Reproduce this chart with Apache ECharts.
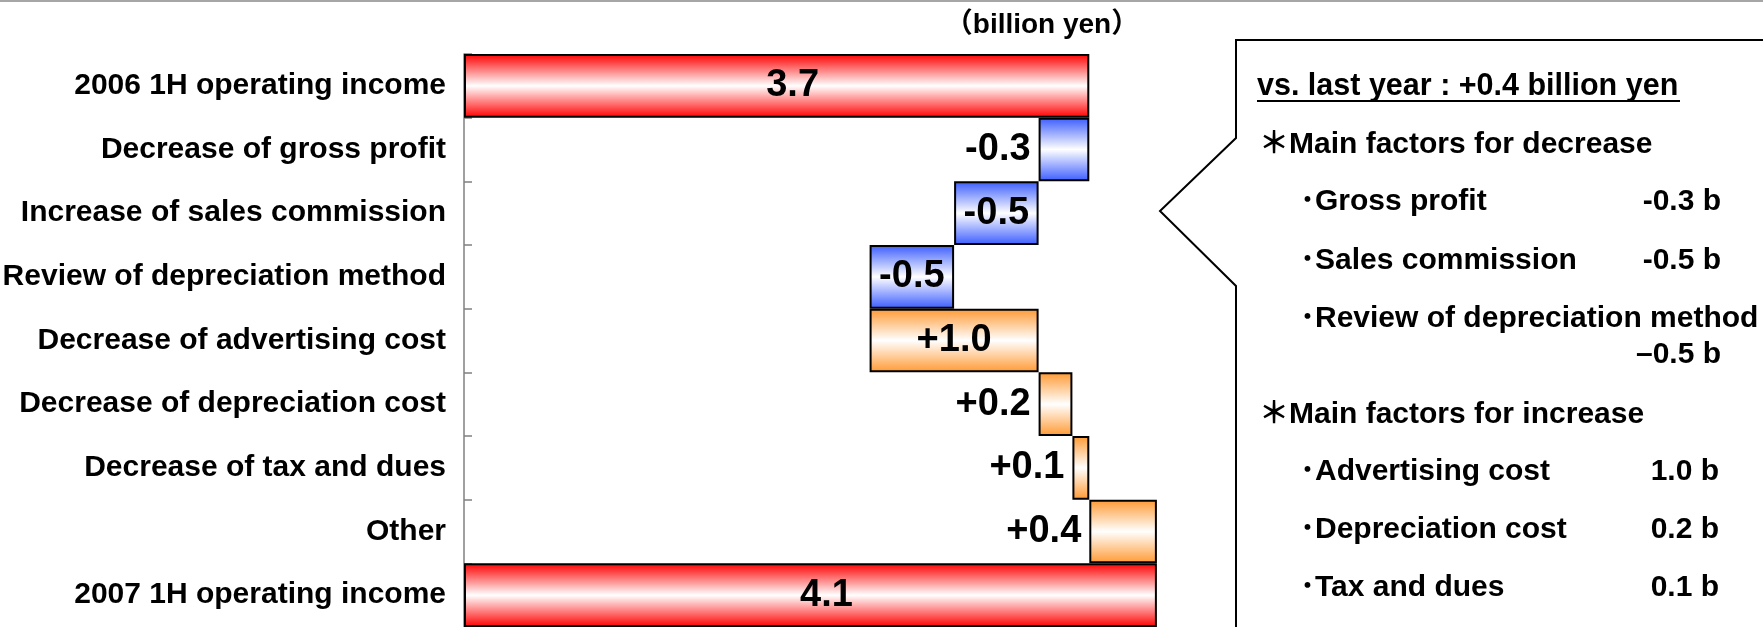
<!DOCTYPE html>
<html>
<head>
<meta charset="utf-8">
<title>Operating income bridge</title>
<script src="https://cdn.jsdelivr.net/npm/echarts@6/dist/echarts.min.js"></script>
<style>
  html, body { margin: 0; padding: 0; background: #fff; }
  #chart { width: 1763px; height: 627px; }
</style>
</head>
<body>
<div id="chart"></div>
<script>
// Rows of the bridge, top to bottom
const categories = [
  '2006 1H operating income',
  'Decrease of gross profit',
  'Increase of sales commission',
  'Review of depreciation method',
  'Decrease of advertising cost',
  'Decrease of depreciation cost',
  'Decrease of tax and dues',
  'Other',
  '2007 1H operating income'
];
// Amounts in billion yen: first and last rows are totals, the rest are changes
const amounts = [3.7, -0.3, -0.5, -0.5, 1.0, 0.2, 0.1, 0.4, 4.1];
const isTotal = [true, false, false, false, false, false, false, false, true];

const unitLabel = '（billion yen）';

// Text of the summary panel
const panelTitle = 'vs. last year : +0.4 billion yen';
const decreaseHeading = '＊Main factors for decrease';
const decreaseItems = ['Gross profit', 'Sales commission', 'Review of depreciation method'];
const decreaseValues = ['-0.3 b', '-0.5 b', '–0.5 b'];
const increaseHeading = '＊Main factors for increase';
const increaseItems = ['Advertising cost', 'Depreciation cost', 'Tax and dues'];
const increaseValues = ['1.0 b', '0.2 b', '0.1 b'];

// ---- layout / styling ----
const FONT = "'Liberation Sans', Arial, 'Noto Sans CJK JP', sans-serif";
const RED = '#ff0000', BLUE = '#3a5cff', ORANGE = '#ff9933';

function band(c) {
  return new echarts.graphic.LinearGradient(0, 0, 0, 1, [
    { offset: 0, color: c },
    { offset: 0.5, color: '#ffffff' },
    { offset: 1, color: c }
  ]);
}

// Running totals give each floating bar its offset
const bases = [];
const visible = [];
let running = 0;
amounts.forEach((v, i) => {
  if (isTotal[i]) {
    bases.push(0);
    visible.push({
      value: v,
      itemStyle: { color: band(RED) },
      label: { position: 'inside', offset: [16, 0], formatter: v.toFixed(1) }
    });
    running = v;
  } else {
    const next = running + v;
    bases.push(Math.min(running, next));
    const txt = (v > 0 ? '+' : '-') + Math.abs(v).toFixed(1);
    // large steps carry their label inside, small ones to the left
    const inside = Math.abs(v) >= 0.5;
    visible.push({
      value: Math.abs(v),
      itemStyle: { color: band(v < 0 ? BLUE : ORANGE) },
      label: { position: inside ? 'inside' : 'left', distance: 8, formatter: txt }
    });
    running = next;
  }
});

const chart = echarts.init(document.getElementById('chart'), null, { renderer: 'canvas' });

const PANEL_X = 1236, PANEL_TOP = 40;
const textEl = (text, x, y, align, extra) => ({
  type: 'text',
  x: x, y: y,
  style: Object.assign({
    text: text,
    fill: '#000',
    font: 'bold 30px ' + FONT,
    align: align || 'left',
    verticalAlign: 'middle'
  }, extra || {})
});

const graphics = [
  // thin rule along the top edge
  { type: 'rect', shape: { x: 0, y: 0, width: 1763, height: 2 }, style: { fill: '#a6a6a6' } },
  // callout box pointing at the bars
  {
    type: 'polyline',
    shape: { points: [[1770, PANEL_TOP], [PANEL_X, PANEL_TOP], [PANEL_X, 138], [1160, 211], [PANEL_X, 286], [PANEL_X, 640]] },
    style: { stroke: '#000', lineWidth: 2, fill: null }
  },
  textEl(unitLabel, 1042, 25, 'center', { font: 'bold 28px ' + FONT }),
  textEl(panelTitle, 1257, 87, 'left', { font: 'bold 30.5px ' + FONT }),
  { type: 'rect', shape: { x: 1257, y: 100, width: 423, height: 2 }, style: { fill: '#000' } },
  textEl(decreaseHeading, 1259, 145),
  textEl(increaseHeading, 1259, 415)
];

const decY = [202, 261, 319];
decreaseItems.forEach((t, i) => graphics.push(textEl('･' + t, 1300, decY[i])));
const decValY = [202, 261, 355];
decreaseValues.forEach((t, i) => graphics.push(textEl(t, 1721, decValY[i], 'right')));
const incY = [472, 530, 588];
increaseItems.forEach((t, i) => graphics.push(textEl('･' + t, 1300, incY[i])));
increaseValues.forEach((t, i) => graphics.push(textEl(t, 1719, incY[i], 'right')));

chart.setOption({
  animation: false,
  backgroundColor: '#ffffff',
  grid: { left: 464, top: 54, width: 169 * 7, bottom: 0, containLabel: false, outerBoundsMode: 'none' },
  xAxis: { type: 'value', min: 0, max: 7, show: false },
  yAxis: {
    type: 'category',
    inverse: true,
    data: categories,
    axisLine: { show: true, lineStyle: { color: '#808080', width: 1.5 } },
    axisTick: { show: true, inside: true, length: 8, lineStyle: { color: '#808080', width: 1.5 } },
    axisLabel: {
      color: '#000', fontWeight: 'bold', fontSize: 30, fontFamily: FONT, margin: 18
    },
    splitLine: { show: false }
  },
  series: [
    {
      name: 'offset', type: 'bar', stack: 'bridge', silent: true,
      barCategoryGap: '0%',
      itemStyle: { color: 'rgba(0,0,0,0)' },
      data: bases
    },
    {
      name: 'amount', type: 'bar', stack: 'bridge',
      barCategoryGap: '0%',
      itemStyle: { borderColor: '#000', borderWidth: 2 },
      label: {
        show: true, color: '#000', fontWeight: 'bold', fontSize: 38, fontFamily: FONT
      },
      data: visible
    }
  ],
  graphic: graphics
});
</script>
</body>
</html>
